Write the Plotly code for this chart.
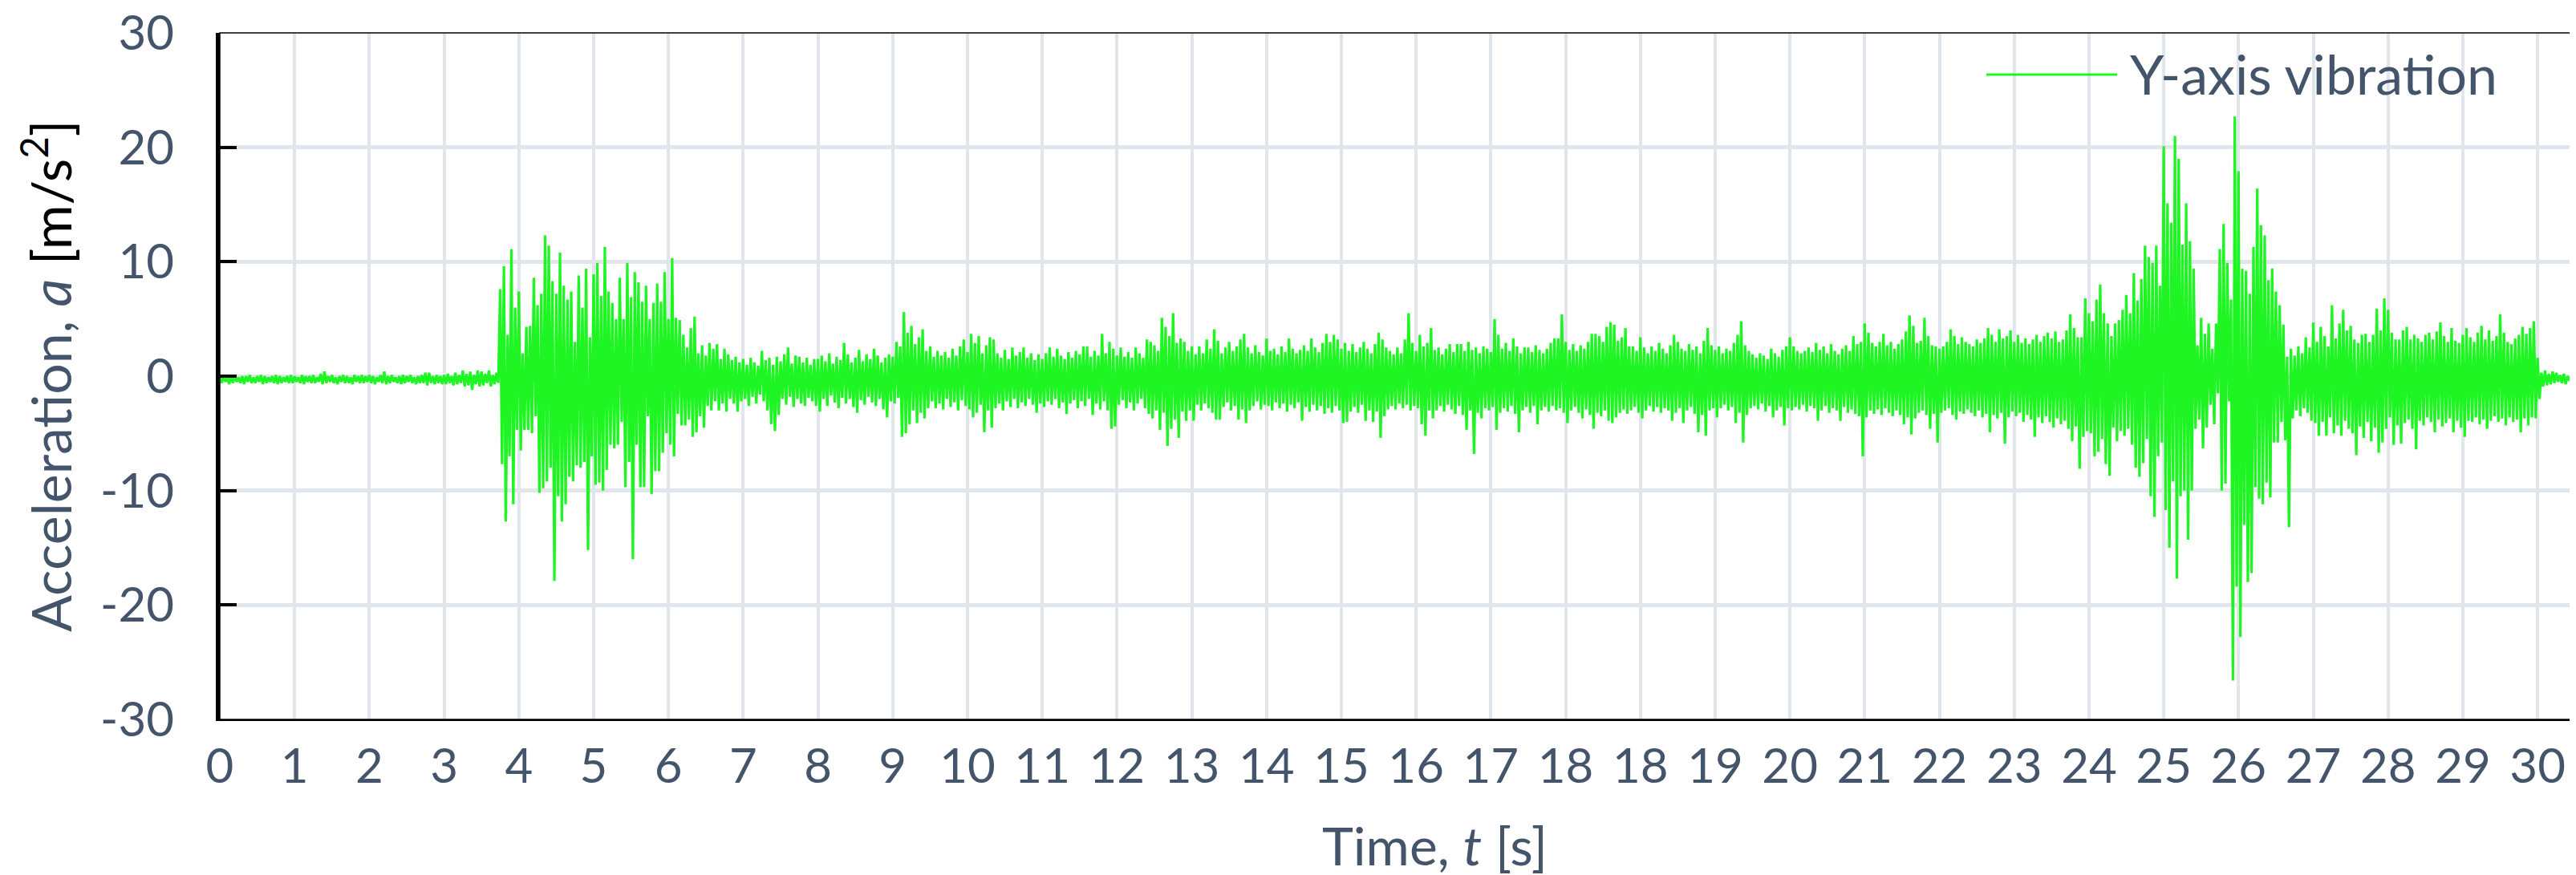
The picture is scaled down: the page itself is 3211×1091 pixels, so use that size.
import plotly.graph_objects as go

# ---------------- data ----------------
# Time axis is drawn in tick-position units; the printed tick labels follow the original chart.
tick_positions = list(range(0, 32))
tick_labels = ["0", "1", "2", "3", "4", "5", "6", "7", "8", "9", "10", "11", "12", "13", "14", "15",
               "16", "17", "18", "18", "19", "20", "21", "22", "23", "24", "25", "26", "27", "28", "29", "30"]
y_ticks = [-30, -20, -10, 0, 10, 20, 30]
y_tick_labels = ["-30", "-20", "-10", "0", "10", "20", "30"]

series_name = "Y-axis vibration"
bin_step = 0.05          # width of one envelope bin, in axis units
x_max = 31.46

# upper peak of the signal in every 0.05-wide bin (one row = one axis unit)
peak_up = [
    0.0, 0.1, -0.1, 0.0, 0.1, -0.1, 0.0, 0.0, 0.1, -0.1, 0.0, 0.1, 0.0, -0.1, 0.0, 0.1, 0.0, -0.1, 0.0, 0.1,
    0.0, -0.1, 0.1, 0.0, 0.0, 0.1, -0.1, 0.2, 0.4, 0.0, 0.1, -0.1, 0.0, 0.1, 0.0, -0.1, 0.1, 0.0, 0.1, 0.0,
    0.1, 0.0, -0.1, 0.1, 0.4, 0.0, 0.1, -0.1, 0.0, 0.1, 0.0, 0.1, -0.1, 0.0, 0.1, 0.3, 0.3, 0.0, 0.1, 0.0,
    0.1, 0.2, 0.0, 0.3, 0.1, 0.5, 0.2, 0.4, 0.1, 0.5, 0.4, 0.2, 0.5, 0.1, 0.3, 7.6, 9.6, 3.6, 11.1, 6.0,
    7.4, 2.0, 4.3, 4.4, 8.6, 6.2, 7.2, 12.3, 11.4, 8.3, 7.2, 10.8, 7.9, 6.7, 7.4, 3.0, 8.8, 6.0, 9.4, 3.4,
    8.9, 9.9, 7.0, 11.3, 7.4, 6.4, 5.0, 8.6, 5.0, 9.9, 6.9, 9.1, 8.2, 6.5, 7.9, 5.0, 6.4, 8.1, 6.5, 9.1,
    5.0, 10.3, 5.1, 4.9, 3.6, 2.5, 4.2, 5.2, 2.0, 2.7, 1.8, 2.9, 2.4, 2.8, 1.5, 2.4, 1.9, 1.4, 1.7, 1.2,
    1.5, 1.0, 1.6, 1.2, 0.9, 2.2, 1.4, 1.6, 1.0, 1.7, 1.3, 1.9, 2.5, 1.1, 1.8, 1.7, 1.2, 1.6, 1.0, 1.5,
    1.5, 1.8, 1.3, 2.0, 1.1, 1.7, 1.4, 2.9, 1.9, 1.2, 1.6, 2.3, 1.3, 1.9, 1.5, 2.4, 1.8, 1.2, 1.6, 1.9,
    1.7, 3.0, 2.6, 5.6, 3.8, 4.4, 2.8, 3.4, 4.1, 2.2, 2.6, 1.7, 2.2, 1.8, 2.1, 1.6, 2.4, 1.8, 2.6, 3.2,
    2.1, 3.7, 2.9, 3.5, 2.0, 2.7, 3.4, 3.2, 2.0, 1.6, 2.3, 1.5, 2.5, 1.8, 2.1, 2.5, 1.6, 2.0, 1.4, 1.9,
    1.5, 2.0, 2.5, 1.7, 2.4, 1.8, 1.5, 2.1, 1.6, 2.2, 1.9, 2.6, 2.6, 1.7, 2.2, 1.8, 3.7, 2.0, 3.0, 2.4,
    1.8, 2.5, 1.7, 2.1, 1.6, 2.5, 2.0, 1.6, 3.2, 3.0, 2.7, 2.2, 5.1, 4.3, 3.5, 5.5, 2.9, 3.3, 3.0, 2.2,
    2.6, 1.9, 2.6, 2.0, 3.2, 2.4, 4.1, 3.1, 2.0, 2.5, 3.0, 2.2, 2.6, 3.2, 3.7, 2.5, 2.0, 2.7, 2.1, 1.8,
    3.3, 2.2, 2.4, 1.9, 2.6, 2.1, 3.3, 2.4, 2.0, 2.3, 2.7, 2.2, 3.3, 2.5, 2.1, 2.9, 3.7, 3.0, 3.6, 3.2,
    2.4, 2.9, 2.2, 2.8, 2.1, 2.5, 3.0, 2.4, 2.0, 2.8, 3.8, 3.2, 2.5, 2.2, 1.9, 2.5, 2.0, 3.2, 5.5, 2.9,
    2.2, 3.6, 2.6, 2.9, 4.2, 2.3, 2.5, 1.9, 2.4, 2.8, 2.1, 2.8, 2.8, 2.2, 3.0, 2.3, 2.5, 2.0, 2.6, 2.4,
    2.1, 5.0, 3.6, 2.4, 2.9, 2.2, 3.3, 2.6, 2.0, 2.5, 2.5, 2.1, 2.7, 2.3, 2.0, 2.4, 2.9, 3.3, 3.3, 5.4,
    3.0, 2.3, 2.8, 2.2, 2.7, 2.4, 3.0, 3.7, 3.7, 3.5, 3.0, 4.3, 4.7, 4.5, 3.1, 3.4, 4.2, 2.6, 2.6, 2.2,
    3.4, 2.5, 2.0, 2.6, 2.2, 2.9, 2.4, 2.0, 2.7, 3.6, 3.0, 2.4, 2.2, 2.8, 2.3, 2.6, 2.0, 3.1, 4.2, 2.7,
    2.3, 2.6, 2.0, 2.4, 2.2, 2.9, 3.6, 4.8, 2.7, 2.2, 1.9, 1.6, 2.0, 1.8, 1.5, 2.4, 2.0, 1.7, 2.3, 2.6,
    3.4, 2.6, 2.2, 2.0, 2.2, 2.5, 2.1, 2.9, 2.3, 2.6, 2.0, 2.8, 2.2, 1.9, 2.4, 2.7, 2.2, 3.5, 2.8, 3.0,
    4.6, 3.8, 2.9, 2.6, 3.0, 3.7, 2.7, 3.0, 2.4, 2.8, 3.2, 3.9, 5.3, 4.4, 2.9, 3.1, 5.1, 3.5, 2.7, 2.6,
    2.4, 2.6, 3.0, 4.1, 3.5, 2.8, 3.4, 3.0, 2.8, 2.6, 3.2, 2.9, 3.3, 4.2, 3.6, 3.0, 4.1, 3.3, 3.5, 4.0,
    3.0, 3.6, 2.9, 3.3, 2.8, 3.2, 3.6, 3.0, 3.5, 3.8, 3.3, 3.9, 3.0, 3.2, 4.0, 5.4, 4.2, 3.4, 3.4, 6.8,
    5.5, 4.8, 6.7, 8.0, 5.5, 4.6, 3.5, 4.6, 4.9, 5.8, 7.1, 5.5, 9.0, 6.6, 8.5, 11.4, 10.4, 9.9, 11.4, 7.9,
    20.1, 15.1, 13.4, 21.0, 19.0, 11.5, 15.1, 11.8, 9.4, 2.7, 5.1, 3.7, 4.6, 2.4, 4.6, 11.1, 13.3, 9.9, 6.7, 22.7,
    17.9, 9.4, 9.2, 7.2, 11.3, 16.4, 13.2, 12.3, 8.4, 9.4, 7.4, 6.2, 4.5, 1.7, 2.4, 1.8, 2.6, 2.0, 3.4, 2.5,
    4.7, 3.0, 4.3, 3.5, 2.6, 6.2, 3.3, 4.6, 5.8, 4.0, 4.4, 3.2, 2.9, 3.6, 3.7, 3.0, 3.6, 5.9, 4.0, 6.8,
    5.8, 3.8, 3.2, 3.2, 4.0, 4.3, 3.2, 3.6, 3.3, 3.0, 3.6, 3.8, 3.2, 3.9, 4.7, 3.5, 3.0, 4.2, 3.1, 2.9,
    3.6, 4.2, 3.4, 3.0, 3.8, 4.4, 3.2, 4.0, 3.1, 3.5, 5.4, 3.8, 3.0, 2.8, 3.3, 3.6, 4.3, 3.7, 4.2, 4.8,
    1.6, 0.3, 0.5, 0.2, 0.4, 0.3, 0.1, 0.2, 0.0, 0.1,
]

# lower peak of the signal in every 0.05-wide bin (one row = one axis unit)
peak_down = [
    -0.6, -0.5, -0.7, -0.6, -0.5, -0.6, -0.7, -0.5, -0.6, -0.6, -0.5, -0.7, -0.6, -0.5, -0.6, -0.7, -0.6, -0.5, -0.6, -0.6,
    -0.5, -0.6, -0.7, -0.5, -0.6, -0.6, -0.5, -0.7, -0.6, -0.5, -0.6, -0.7, -0.5, -0.6, -0.6, -0.7, -0.5, -0.6, -0.6, -0.5,
    -0.6, -0.7, -0.5, -0.6, -0.7, -0.6, -0.5, -0.6, -0.7, -0.6, -0.5, -0.6, -0.7, -0.6, -0.6, -0.8, -0.6, -0.7, -0.6, -0.7,
    -0.7, -0.6, -0.8, -0.7, -0.6, -0.9, -0.8, -1.2, -0.7, -0.9, -0.8, -0.6, -0.9, -0.7, -0.6, -7.7, -12.7, -7.0, -11.2, -4.7,
    -6.5, -4.7, -4.7, -5.0, -3.5, -10.2, -9.8, -9.2, -8.0, -17.9, -10.5, -12.7, -11.2, -8.8, -9.2, -7.8, -8.0, -7.5, -15.2, -7.0,
    -9.5, -9.3, -10.0, -8.2, -6.0, -6.3, -6.0, -4.0, -9.7, -7.5, -16.0, -6.0, -9.7, -9.7, -3.5, -10.3, -8.3, -8.3, -6.7, -5.0,
    -6.0, -7.0, -3.3, -4.3, -4.3, -3.8, -5.3, -4.9, -3.5, -4.5, -2.6, -3.0, -2.2, -3.0, -2.4, -3.1, -2.0, -2.4, -3.1, -2.2,
    -2.0, -2.6, -1.8, -2.4, -1.6, -2.2, -3.0, -4.2, -4.8, -3.4, -2.0, -2.5, -1.8, -2.7, -2.0, -2.4, -2.6, -1.9, -2.2, -2.6,
    -3.1, -2.0, -2.6, -1.7, -2.3, -2.8, -1.9, -2.4, -2.0, -2.7, -3.2, -2.1, -2.5, -1.8, -2.3, -2.6, -2.0, -2.9, -3.6, -2.2,
    -2.4, -1.9, -5.3, -5.0, -4.2, -3.0, -4.1, -3.2, -3.7, -2.8, -2.2, -2.8, -2.4, -2.9, -2.0, -2.7, -2.3, -3.0, -2.1, -2.6,
    -2.9, -3.6, -3.2, -2.5, -4.9, -3.0, -4.5, -2.8, -2.4, -3.0, -2.2, -2.7, -2.0, -2.8, -2.3, -2.6, -2.0, -2.5, -3.2, -2.4,
    -2.7, -2.2, -2.5, -2.0, -2.8, -2.3, -3.3, -2.4, -2.1, -2.8, -2.2, -2.6, -2.0, -3.4, -2.4, -2.9, -2.2, -3.0, -4.6, -4.4,
    -2.5, -2.1, -2.8, -2.3, -3.0, -2.4, -2.0, -2.8, -3.3, -3.7, -3.0, -4.7, -3.2, -6.1, -4.6, -3.8, -5.4, -3.1, -3.9, -3.0,
    -3.9, -2.5, -3.0, -2.4, -2.8, -3.2, -3.8, -3.8, -2.7, -2.3, -3.0, -2.6, -3.8, -2.9, -4.1, -3.0, -2.6, -2.2, -2.9, -2.5,
    -2.6, -3.0, -2.3, -2.8, -2.4, -3.1, -2.5, -2.8, -2.3, -3.9, -2.7, -3.1, -2.5, -3.0, -2.6, -3.3, -2.8, -3.2, -2.6, -3.0,
    -4.1, -4.0, -3.1, -2.7, -3.2, -2.5, -3.9, -3.0, -4.0, -3.1, -5.4, -3.5, -2.9, -2.6, -2.9, -2.4, -2.8, -2.5, -3.0, -2.6,
    -2.8, -4.2, -5.2, -3.0, -3.7, -3.0, -2.6, -3.1, -2.5, -2.9, -3.3, -2.6, -3.4, -4.7, -3.0, -6.8, -3.2, -3.7, -2.8, -3.0,
    -2.7, -4.7, -3.2, -2.8, -3.1, -2.6, -3.3, -4.9, -3.0, -2.7, -3.2, -2.6, -4.2, -3.0, -2.7, -3.1, -2.6, -3.0, -2.8, -3.2,
    -4.1, -3.0, -2.7, -3.2, -3.7, -2.9, -3.4, -4.6, -3.2, -3.5, -3.0, -3.9, -4.1, -3.6, -3.2, -2.9, -3.3, -3.0, -2.7, -3.2,
    -3.7, -3.0, -2.6, -3.1, -2.7, -3.2, -2.8, -3.0, -3.9, -3.2, -2.8, -4.1, -3.0, -2.7, -3.3, -4.9, -3.4, -5.2, -3.0, -2.8,
    -3.6, -2.8, -2.5, -3.0, -2.7, -4.1, -3.2, -5.8, -3.4, -2.8, -2.6, -2.9, -2.4, -3.1, -2.6, -3.6, -3.0, -2.7, -4.3, -2.8,
    -3.0, -2.7, -2.9, -2.5, -3.1, -2.6, -2.8, -3.9, -3.0, -2.6, -3.2, -2.8, -3.0, -3.9, -2.7, -3.2, -2.9, -3.3, -3.5, -7.0,
    -3.6, -3.0, -3.3, -2.9, -3.4, -2.8, -3.2, -3.5, -3.0, -3.4, -4.2, -3.6, -5.1, -3.7, -3.2, -3.0, -3.4, -4.6, -3.3, -5.8,
    -3.2, -3.0, -2.8, -3.4, -3.8, -3.1, -3.3, -2.9, -3.2, -3.5, -3.0, -3.6, -3.3, -4.9, -3.4, -3.7, -3.2, -5.9, -3.6, -3.1,
    -3.5, -3.2, -4.0, -3.4, -3.8, -5.3, -3.6, -4.1, -3.5, -4.0, -4.5, -3.7, -4.2, -3.9, -4.6, -5.7, -4.4, -8.1, -5.3, -4.8,
    -5.0, -7.0, -6.6, -5.5, -7.7, -8.7, -4.5, -5.7, -4.8, -5.2, -4.6, -6.0, -8.0, -8.8, -7.6, -5.5, -10.5, -12.3, -7.0, -5.8,
    -11.7, -15.0, -9.2, -17.7, -10.5, -10.0, -14.3, -10.0, -4.6, -3.8, -6.3, -4.5, -2.5, -4.2, -1.5, -10.0, -9.4, -2.2, -26.6, -18.4,
    -22.8, -13.0, -18.0, -17.2, -9.7, -10.7, -11.2, -9.3, -10.6, -5.8, -5.8, -4.0, -5.6, -13.2, -3.7, -3.0, -3.5, -2.8, -3.2, -3.9,
    -4.1, -5.2, -4.0, -5.2, -3.6, -5.0, -4.3, -5.2, -3.9, -4.6, -5.0, -6.9, -4.4, -5.4, -4.0, -5.7, -4.5, -6.7, -5.8, -4.6,
    -3.6, -6.0, -4.3, -5.9, -4.1, -3.8, -4.6, -6.4, -3.9, -4.3, -3.6, -4.0, -4.9, -3.8, -4.4, -4.1, -3.7, -4.9, -3.9, -4.5,
    -5.3, -3.9, -4.0, -3.6, -4.2, -3.8, -4.6, -3.9, -3.5, -4.0, -3.7, -4.3, -3.6, -4.0, -3.8, -4.9, -3.7, -4.3, -3.6, -3.7,
    -2.0, -0.9, -0.8, -0.7, -0.6, -0.5, -0.6, -0.7, -0.4, -0.3,
]

# ---------------- figure ----------------
GREEN = "#1ef523"
SLATE = "#44546A"
GRID = "#E1E5EC"
FONT = "Lato"

# zig-zag through the upper and lower peak of each bin
xs, ys = [], []
for i, (hi, lo) in enumerate(zip(peak_up, peak_down)):
    t = i * bin_step
    xs += [t, t + bin_step / 2]
    ys += [hi, lo]

fig = go.Figure()
fig.add_trace(go.Scatter(
    x=xs, y=ys, mode="lines", name=series_name, showlegend=False,
    line=dict(color=GREEN, width=3.2, simplify=False),
))

W, H = 3211, 1091
L, R, T, B = 266, 13, 33, 202
pw, ph = W - L - R, H - T - B


def px_x(p):
    return (p - L) / pw


def px_y(p):
    return (H - B - p) / ph


fig.update_layout(
    width=W, height=H,
    margin=dict(l=L, r=R, t=T, b=B, autoexpand=False),
    paper_bgcolor="white", plot_bgcolor="white",
    font=dict(family=FONT, color=SLATE, size=60),
    xaxis=dict(
        range=[0, x_max], tickmode="array", tickvals=tick_positions, ticktext=tick_labels,
        showgrid=True, gridcolor=GRID, gridwidth=4, zeroline=False,
        showline=True, linecolor="black", linewidth=1.5, ticks="",
        tickfont=dict(family=FONT, size=60, color=SLATE), ticklabelstandoff=5,
        ticklabeloverflow="allow", automargin=False,
    ),
    yaxis=dict(
        range=[-30, 30], tickmode="array", tickvals=y_ticks, ticktext=y_tick_labels,
        showgrid=True, gridcolor=GRID, gridwidth=5, zeroline=False,
        showline=True, linecolor="black", linewidth=5,
        ticks="inside", ticklen=21, tickwidth=4, tickcolor="black",
        tickfont=dict(family=FONT, size=60, color=SLATE), ticklabelstandoff=40,
        ticklabeloverflow="allow", automargin=False,
    ),
    shapes=[
        # thin frame around the plot area
        dict(type="rect", xref="x domain", yref="y domain", x0=0, x1=1, y0=0, y1=1,
             line=dict(color="black", width=1.5), layer="above"),
        # legend background
        dict(type="rect", xref="paper", yref="paper",
             x0=px_x(2320), x1=px_x(3196), y0=px_y(134), y1=px_y(37),
             fillcolor="white", line=dict(width=0), layer="between"),
        # legend line sample
        dict(type="line", xref="paper", yref="paper",
             x0=px_x(2468), x1=px_x(2631), y0=px_y(85), y1=px_y(85),
             line=dict(color=GREEN, width=3), layer="above"),
    ],
    annotations=[
        dict(text=series_name, xref="paper", yref="paper", x=px_x(2645), y=px_y(83),
             xanchor="left", yanchor="middle", showarrow=False,
             font=dict(family=FONT, size=68, color=SLATE)),
        dict(text="Time, <i>t</i> [s]", xref="paper", yref="paper", x=px_x(1781), y=px_y(1045),
             xanchor="center", yanchor="middle", showarrow=False,
             font=dict(family=FONT, size=66, color=SLATE)),
        dict(text='Acceleration, <i>a</i> <span style="color:#000000">[m/s<sup>2</sup>]</span>',
             xref="paper", yref="paper", x=px_x(50), y=0.5, textangle=-90,
             xanchor="center", yanchor="middle", showarrow=False,
             font=dict(family=FONT, size=68, color=SLATE)),
    ],
)

fig.write_html("out.html")
